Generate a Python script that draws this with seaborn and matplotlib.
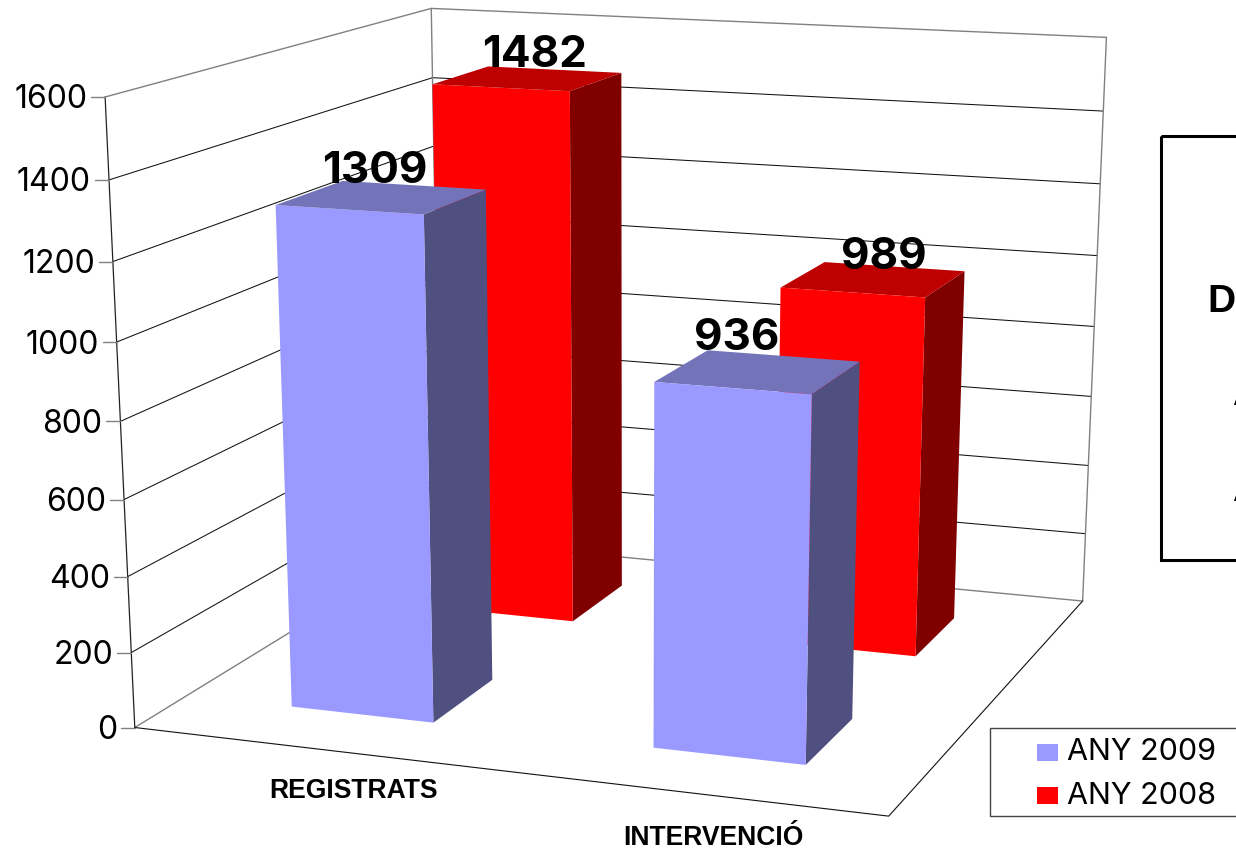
import numpy as np
import matplotlib
matplotlib.use("Agg")
import matplotlib.pyplot as plt
from matplotlib.lines import Line2D
from matplotlib.patches import Rectangle
from matplotlib.transforms import Affine2D
import seaborn as sns

categories = ["REGISTRATS", "INTERVENCIÓ"]
series_names = ["ANY 2009", "ANY 2008"]
values_2009 = [1309, 936]
values_2008 = [1482, 989]
z_ticks = [0, 200, 400, 600, 800, 1000, 1200, 1400, 1600]

sns.set_theme(style="white")
plt.rcParams["font.family"] = ["Inter", "Liberation Sans", "DejaVu Sans"]

W, H = 1236, 850
fig = plt.figure(figsize=(W / 100, H / 100), dpi=100)
px = Affine2D().scale(1, -1).translate(0, H)  # picture pixels, y going down

# camera fitted on the corners of the chart box: (cat, series, value) -> pixel
box_3d = [(0, 0, 0), (2, 0, 0), (2, 2, 0), (0, 0, 1600), (0, 2, 1600),
          (2, 2, 1600), (0, 0, 800), (2, 2, 800), (0, 2, 1400)]
box_px = [(135, 728), (889, 816), (1084, 601), (105, 98), (432, 8),
          (1108, 37), (120, 420), (1091, 327), (432, 78)]
rows = []
for (x, y, z), (u, v) in zip(box_3d, box_px):
    z = z / 800
    rows.append([x, y, z, 1, 0, 0, 0, 0, -u * x, -u * y, -u * z, -u])
    rows.append([0, 0, 0, 0, x, y, z, 1, -v * x, -v * y, -v * z, -v])
P = np.linalg.svd(np.array(rows, float))[2][-1].reshape(3, 4)
P[:, 2] /= 800
P = P / P[2, 3]


def project(x, y, z):
    r = P @ np.array([x, y, z, 1.0])
    return r[:2] / r[2]


ax = fig.add_axes([0, 0, 1, 1], projection="3d")
ax.apply_aspect = lambda position=None: None
ax.set_axis_off()
ax.computed_zorder = False
flip = np.array([[1, 0, 0], [0, -1, H], [0, 0, 1.0]])
Q = ax.transData.inverted().get_matrix() @ flip @ P
M = np.vstack([Q[0], Q[1], [0, 0, 0, -1], Q[2]])
ax.get_proj = lambda: M

# walls and floor
grey = "#808080"
for v in z_ticks:
    c = grey if v in (0, 1600) else "#111111"
    lw = 1.0 if v in (0, 1600) else 0.75
    ax.plot([0, 0, 2], [0, 2, 2], [v, v, v], color=c, lw=lw, zorder=1)
ax.plot([0, 0], [0, 0], [0, 1600], color="#222222", lw=0.9, zorder=1)
ax.plot([0, 0], [2, 2], [0, 1600], color=grey, lw=1.0, zorder=1)
ax.plot([2, 2], [2, 2], [0, 1600], color=grey, lw=1.0, zorder=1)
ax.plot([0, 2, 2], [0, 0, 2], [0, 0, 0], color="#111111", lw=0.8, zorder=1)

# bars, faces: bottom, top, front, back, left, right
no_face = (0, 0, 0, 0)
colors_2009 = [no_face, "#7373BA", "#9999FF", no_face, no_face, "#4F4F80"]
colors_2008 = [no_face, "#BF0000", "#FF0000", no_face, no_face, "#800000"]
for i in range(len(categories)):
    ax.bar3d(i + 0.3, 1.3, 0, 0.4, 0.4, values_2008[i], color=colors_2008,
             shade=False, linewidth=0, zorder=2)
    ax.bar3d(i + 0.3, 0.3, 0, 0.4, 0.4, values_2009[i], color=colors_2009,
             shade=False, linewidth=0, zorder=3)

# data labels
label_fs = 44 * 0.72
for i, (dx, dy) in enumerate([(-7, -26), (-22, -33)]):
    u, v = project(i + 0.5, 0.5, values_2009[i])
    fig.text(u + dx, v + dy, str(values_2009[i]), transform=px, fontsize=label_fs,
             fontweight="bold", ha="center", va="center", color="black", zorder=6)
for i, (dx, dy) in enumerate([(6, -23), (10, -22)]):
    u, v = project(i + 0.5, 1.5, values_2008[i])
    fig.text(u + dx, v + dy, str(values_2008[i]), transform=px, fontsize=label_fs,
             fontweight="bold", ha="center", va="center", color="black", zorder=6)

# value axis ticks
for v in z_ticks:
    u, w = project(0, 0, v)
    fig.add_artist(Line2D([u - 14, u], [w, w], transform=px, color=grey, lw=1.0))
    fig.text(u - 18, w + 3, str(v), transform=px, fontsize=32 * 0.72, ha="right",
             va="center", color="black")

# category labels
for i, (dx, dy) in enumerate([(41, 43), (24, 45)]):
    u, v = project(i + 0.5, 0, 0)
    fig.text(u + dx, v + dy, categories[i], transform=px, fontsize=26.5 * 0.72,
             family="Liberation Sans", fontweight="bold", ha="center", va="center",
             color="black")

# legend, runs off the right edge
fig.add_artist(Rectangle((990, 728), 300, 88, transform=px, facecolor="white",
                         edgecolor="#444444", lw=1.0))
for name, c, yy in zip(series_names, ["#9999FF", "#FF0000"], [752.5, 795.5]):
    fig.add_artist(Rectangle((1037, yy - 8.5), 21, 17, transform=px, facecolor=c,
                             edgecolor="none"))
    fig.text(1067, yy, name, transform=px, fontsize=30.5 * 0.72, ha="left",
             va="center", color="black")

# title box, also cut by the edge
fig.add_artist(Rectangle((1161, 136), 200, 424, transform=px, fill=False,
                         edgecolor="black", lw=2.2))
fig.text(1207, 312, "D", transform=px, fontsize=39 * 0.72, family="Liberation Sans",
         fontweight="bold", ha="left", va="baseline", color="black")
for yy in (405, 501):
    fig.text(1232, yy, "A", transform=px, fontsize=39 * 0.72, family="Liberation Sans",
             fontweight="bold", ha="left", va="baseline", color="black")

fig.savefig("out.png", dpi=100)
